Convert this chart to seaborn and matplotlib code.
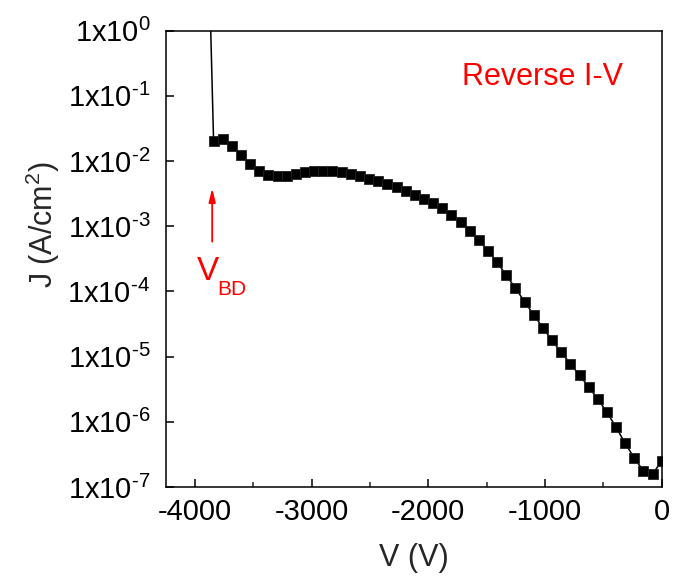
import numpy as np
import pandas as pd
import matplotlib
matplotlib.use("Agg")
import matplotlib.pyplot as plt
import seaborn as sns
from matplotlib.ticker import FixedLocator, MultipleLocator, NullLocator

# ---- data ----
voltage = [-3880, -3840, -3762, -3683, -3605, -3527, -3448, -3370, -3291, -3213, -3135,
           -3056, -2978, -2900, -2821, -2743, -2664, -2586, -2508, -2429, -2351,
           -2272, -2194, -2116, -2037, -1959, -1880, -1802, -1724, -1645, -1567,
           -1488, -1410, -1332, -1253, -1175, -1096, -1018, -940, -861, -783,
           -704, -626, -548, -469, -391, -313, -234, -156, -78, 0]
current_density = [12.0, 2.05e-2, 2.18e-2, 1.72e-2, 1.23e-2, 8.9e-3, 7.05e-3, 6.12e-3, 5.85e-3,
                   5.9e-3, 6.4e-3, 6.73e-3, 7.05e-3, 7.12e-3, 7.05e-3, 6.8e-3, 6.34e-3,
                   5.97e-3, 5.37e-3, 4.95e-3, 4.45e-3, 3.96e-3, 3.48e-3, 3.05e-3, 2.65e-3,
                   2.30e-3, 1.89e-3, 1.51e-3, 1.15e-3, 8.55e-4, 6.09e-4, 4.18e-4, 2.80e-4,
                   1.77e-4, 1.12e-4, 6.97e-5, 4.35e-5, 2.78e-5, 1.77e-5, 1.17e-5, 7.8e-6,
                   5.18e-6, 3.43e-6, 2.24e-6, 1.40e-6, 8.24e-7, 4.69e-7, 2.76e-7, 1.76e-7,
                   1.57e-7, 2.54e-7]
y_tick_values = [1e-7, 1e-6, 1e-5, 1e-4, 1e-3, 1e-2, 1e-1, 1e0]
y_tick_exponents = ["-7", "-6", "-5", "-4", "-3", "-2", "-1", "0"]
x_tick_values = [-4000, -3000, -2000, -1000, 0]
x_tick_labels = ["-4000", "-3000", "-2000", "-1000", "0"]
breakdown_voltage = -3852
arrow_top, arrow_bottom = 3.82e-3, 5.8e-4

df = pd.DataFrame({"V": voltage, "J": current_density})

sns.set_style("ticks")
plt.rcParams["font.family"] = ["Liberation Sans", "DejaVu Sans"]
plt.rcParams["mathtext.fontset"] = "custom"
plt.rcParams["mathtext.rm"] = "Liberation Sans"
plt.rcParams["mathtext.it"] = "Liberation Sans:italic"
plt.rcParams["mathtext.bf"] = "Liberation Sans:bold"

fig = plt.figure(figsize=(6.84, 5.81), dpi=100)
ax = fig.add_axes([0.2423, 0.1618, 0.7251, 0.7854])

sns.lineplot(data=df, x="V", y="J", ax=ax, color="black", linewidth=1.1,
             marker="s", markersize=7.0, markeredgecolor="#222222",
             markeredgewidth=0.6, estimator=None, sort=False)

ax.set_yscale("log")
ax.set_xlim(-4250, 0)
ax.set_ylim(1e-7, 1e0)

ax.yaxis.set_major_locator(FixedLocator(y_tick_values))
ax.yaxis.set_minor_locator(NullLocator())
ax.set_yticklabels([r"1x10$^{\text{%s}}$" % e for e in y_tick_exponents])
ax.xaxis.set_major_locator(FixedLocator(x_tick_values))
ax.set_xticklabels(x_tick_labels)
ax.xaxis.set_minor_locator(MultipleLocator(500))

for side in ["top", "right", "left", "bottom"]:
    ax.spines[side].set_visible(True)
    ax.spines[side].set_linewidth(1.1)
    ax.spines[side].set_color("black")

ax.tick_params(axis="both", which="major", direction="in", length=6, width=1.1,
               labelsize=21, colors="black", top=False, right=False)
ax.tick_params(axis="y", which="major", pad=11)
ax.tick_params(axis="x", which="major", pad=8)
ax.tick_params(axis="x", which="minor", direction="in", length=3.5, width=1.1,
               top=False)

ax.set_xlabel("V (V)", fontsize=22, labelpad=12)
ax.set_ylabel(r"J (A/cm$^{\mathregular{2}}$)", fontsize=22)
ax.yaxis.set_label_coords(-0.21, 0.574)

ax.text(0.597, 0.8985, "Reverse I-V", transform=ax.transAxes, color="red",
        fontsize=22, ha="left", va="center")

ax.annotate("", xy=(breakdown_voltage, arrow_top), xytext=(breakdown_voltage, arrow_bottom),
            arrowprops=dict(arrowstyle="-|>,head_length=0.8,head_width=0.2",
                            color="red", lw=1.3, shrinkA=0, shrinkB=0))
vtext = ax.text(-3985, 2.0e-4, "V", color="red", fontsize=24, ha="left", va="center")
ax.annotate("BD", xy=(1, 0), xycoords=vtext, xytext=(-1.5, 5), textcoords="offset points",
            color="red", fontsize=15, ha="left", va="top")

ax.grid(False)
fig.savefig("out.png", dpi=100)
